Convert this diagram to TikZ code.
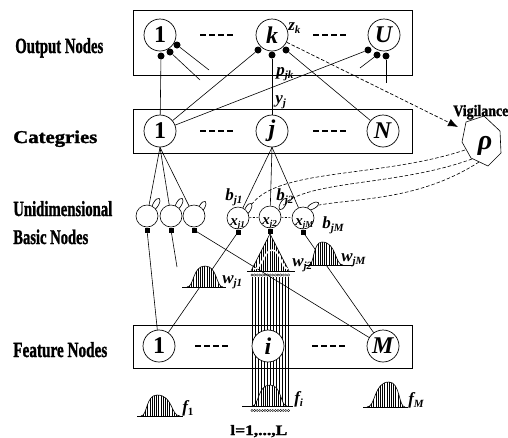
\documentclass[tikz,border=0pt]{standalone}
\usepackage{fontspec}
\setmainfont{Liberation Serif}
\newfontfamily\heavyfont[BoldFeatures={FakeBold=1.5}]{Liberation Serif}
\usetikzlibrary{shapes.geometric,arrows.meta,calc}
\newcommand\fsz[1]{\fontsize{#1pt}{#1pt}\selectfont}
\newcommand\mv[2]{{\fsz{17}\bfseries\itshape #1\raisebox{-3pt}{\fsz{11}#2}}}
\newcommand\mx[2]{{\fsz{15}\bfseries\itshape #1\raisebox{-2.5pt}{\fsz{9}#2}}}
\newcommand\hv[3]{\resizebox{#1}{#2}{\heavyfont\bfseries #3}}
\newcommand\bump[7]{%
 \pgfmathsetmacro\bmA{#2+0.4*(#3-#2)}%
 \pgfmathsetmacro\bmAA{#3-0.7*(#3-#2)}%
 \pgfmathsetmacro\bmB{#3+0.7*(#4-#3)}%
 \pgfmathsetmacro\bmBB{#4-0.4*(#4-#3)}%
 \fill[white] (#2,#6) .. controls (\bmA,#6) and (\bmAA,#7) .. (#3,#7) .. controls (\bmB,#7) and (\bmBB,#6) .. (#4,#6) -- cycle;
 \begin{scope}
 \clip (#2,#6) .. controls (\bmA,#6) and (\bmAA,#7) .. (#3,#7) .. controls (\bmB,#7) and (\bmBB,#6) .. (#4,#6) -- cycle;
 \pgfmathsetmacro\bmC{#2+2.2}%
 \foreach \t in {#2,\bmC,...,#4} \draw[line width=0.6pt] (\t,#6) -- (\t,#7);
 \end{scope}
 \draw (#2,#6) .. controls (\bmA,#6) and (\bmAA,#7) .. (#3,#7) .. controls (\bmB,#7) and (\bmBB,#6) .. (#4,#6);
 \draw (#1,#6) -- (#5,#6);
}
\begin{document}
\begin{tikzpicture}[x=1pt,y=-1pt,line width=0.6pt,
 circ/.style={draw,circle,minimum size=32,inner sep=0,fill=white,line width=0.7pt,font=\fsz{24}\bfseries},
 bas/.style={draw,circle,minimum size=22,inner sep=0,fill=white},
 dot/.style={circle,fill,inner sep=0,minimum size=7},
 sq/.style={rectangle,fill,inner sep=0,minimum size=5},
 ell/.style={draw,ellipse,minimum width=13,minimum height=5.5,inner sep=0,rotate=60,fill=white},
 dashes4/.style={dash pattern=on 6pt off 3pt,line width=1.4pt},
 vig/.style={dash pattern=on 3.5pt off 2pt},
 lbl/.style={anchor=base west,inner sep=0},
]
\useasboundingbox (0,0) rectangle (508,437);
% left labels
\node[lbl] (lo) at (15,53) {\hv{88pt}{15pt}{Output Nodes}};
\node[lbl] (lc) at (13,143) {\hv{84pt}{12.5pt}{Categries}};
\node[lbl] (lu) at (13,216) {\hv{99pt}{15pt}{Unidimensional}};
\node[lbl] (lb) at (13,244) {\hv{75pt}{14.5pt}{Basic Nodes}};
\node[lbl] (lf) at (13,357) {\hv{94pt}{15pt}{Feature Nodes}};
\node[lbl] (lv) at (453,116) {\hv{55pt}{11pt}{Vigilance}};
\node[lbl] (lL) at (230,435) {\hv{57pt}{10pt}{l=1,...,L}};
% boxes
\draw[line width=0.7pt] (133,10) rectangle (412,75);
\draw[line width=0.7pt] (133,109) rectangle (412,153);
\draw[line width=0.7pt] (133,325) rectangle (412,368);
\draw[dashes4] (200,35) -- (233,35);
\draw[dashes4] (313,35) -- (347,35);
\draw[dashes4] (200,131) -- (233,131);
\draw[dashes4] (313,131) -- (347,131);
\draw[dashes4] (195,346) -- (228,346);
\draw[dashes4] (312,346) -- (346,346);
% column through feature i
\foreach \t in {252,255,...,288} \draw[line width=0.5pt] (\t,277) -- (\t,406);
\foreach \t in {252,254.6,...,289} {\draw[line width=0.3pt] (\t,275) circle (1.2); \draw[line width=0.3pt] (\t,410.5) circle (1.2);}
% main nodes
\node[circ] (o1) at (160,35) {1};
\node[circ] (ok) at (272,35) {\textit{k}};
\node[circ] (oU) at (384,35) {\textit{U}};
\node[circ] (c1) at (160,131) {1};
\node[circ] (cj) at (272,131) {\textit{j}};
\node[circ] (cN) at (383,131) {\textit{N}};
\node[circ] (f1) at (159,346) {1};
\node[circ] (fi) at (268,346) {\textit{i}};
\node[circ] (fM) at (383,346) {\textit{M}};
% dots
\node[dot] (d11) at (161,56) {};
\node[dot] (d12) at (170,52) {};
\node[dot] (d13) at (177,45) {};
\node[dot] (dk1) at (258,50) {};
\node[dot] (dk2) at (272,55) {};
\node[dot] (dk3) at (286,50) {};
\node[dot] (dU1) at (368,50) {};
\node[dot] (dU2) at (377,55) {};
\node[dot] (dU3) at (386,56) {};
\coordinate (t12) at (200,80);
\coordinate (t13) at (209,70);
\coordinate (tU2) at (360,68);
\coordinate (tU3) at (386,83);
\coordinate (t2) at (177,267);
% basic nodes
\node[ell] (e1) at (156,204) {};
\node[ell] (e2) at (179,204) {};
\node[ell] (e3) at (202,207) {};
\node[ell] (eb1) at (248,209) {};
\node[ell] (eb2) at (283,204) {};
\node[ell,rotate=-30] (ebM) at (313,206) {};
\node[bas] (u1) at (147,216) {};
\node[bas] (u2) at (171,216) {};
\node[bas] (u3) at (194,216) {};
\node[bas] (x1) at (238,218) {};
\node[bas] (x2) at (270,217) {};
\node[bas] (xM) at (303,218) {};
\node[sq] (s1) at (147,230) {};
\node[sq] (s2) at (171,230) {};
\node[sq] (s3) at (194,230) {};
\node[sq] (sx1) at (238,232) {};
\node[sq] (sx2) at (270,231) {};
\node[sq] (sxM) at (303,232) {};
\node[lbl] (lx1) at (230,225) {\mx{x}{j1}};
\node[lbl] (lx2) at (262,224) {\mx{x}{j2}};
\node[lbl] (lxM) at (295,225) {\mx{x}{jM}};
% connectors
\draw (d11) -- (c1);
\draw (d12) -- (t12);
\draw (d13) -- (t13);
\draw (dk1) -- (c1);
\draw (dk2) -- (cj);
\draw (dk3) -- (cN);
\draw (dU1) -- (c1);
\draw (dU2) -- (tU2);
\draw (dU3) -- (tU3);
\draw (c1.south) -- (u1);
\draw (c1.south) -- (u2);
\draw (c1.south) -- (u3);
\draw (cj.south) -- (x1);
\draw (cj.south) -- (x2);
\draw (cj.south) -- (xM);
\draw (s1) -- (f1);
\draw (s2) -- (t2);
\draw (s3) -- (fM);
\draw (sx1) -- (f1);
\draw (sxM) -- (fM);
\draw[dash pattern=on 2pt off 1.5pt] (x1) -- (x2);
\draw[dash pattern=on 2pt off 1.5pt] (x2) -- (xM);
% vigilance
\draw (466,122) -- (484,116) -- (500,131) -- (501,153) -- (488,166) -- (471,158) -- (462,142) -- cycle;
\node (rho) at (485,146) {\fsz{28}\bfseries\itshape ρ};
\coordinate (va) at (458,127);
\coordinate (h1) at (465,150);
\coordinate (h2) at (472,159);
\coordinate (h3) at (479,162);
\draw[vig,line width=0.7pt,-{Latex[length=10pt,width=8pt]}] (ok) -- (va);
\draw[vig] (h1) .. controls (380,178) and (280,168) .. (eb1);
\draw[vig] (h2) .. controls (400,185) and (320,180) .. (eb2);
\draw[vig] (h3) .. controls (420,200) and (360,198) .. (ebM);
% cone w_j2
\begin{scope}
\clip (sx2.south) -- (251,271) -- (289,271) -- cycle;
\foreach \t in {250,252.2,...,290} \draw[line width=0.5pt] (\t,231) -- (\t,271);
\end{scope}
\draw (sx2.south) -- (251,271);
\draw (sx2.south) -- (289,271);
\draw[white,line width=1.5pt] (254,269) .. controls (262,269) and (264,250) .. (272,250) .. controls (280,250) and (282,269) .. (288,269);
\draw (247,271) -- (295,271);
% distributions
\bump{182}{187}{205}{223}{226}{287}{266}
\bump{305}{309}{322}{343}{353}{265}{242}
\bump{137}{141}{157}{180}{183}{416}{395}
\bump{363}{367}{389}{405}{408}{407}{382}
\bump{242}{252}{270}{287}{293}{406}{385}
% labels
\node[lbl] (lz) at (288,30) {\mv{z}{k}};
\node[lbl] (lp) at (276,75) {\mv{p}{jk}};
\node[lbl] (ly) at (275,103) {\mv{y}{j}};
\node[lbl] (lb1) at (225,200) {\mv{b}{j1}};
\node[lbl] (lb2) at (276,200) {\mv{b}{j2}};
\node[lbl] (lbM) at (322,228) {\mv{b}{jM}};
\node[lbl] (lw1) at (222,283) {\mv{w}{j1}};
\node[lbl] (lw2) at (292,266) {\mv{w}{j2}};
\node[lbl] (lwM) at (341,261) {\mv{w}{jM}};
\node[lbl] (lf1) at (182,412) {\mv{f}{\upshape 1}};
\node[lbl] (lfi) at (294,403) {\mv{f}{i}};
\node[lbl] (lfM) at (408,404) {\mv{f}{M}};
\end{tikzpicture}
\end{document}
